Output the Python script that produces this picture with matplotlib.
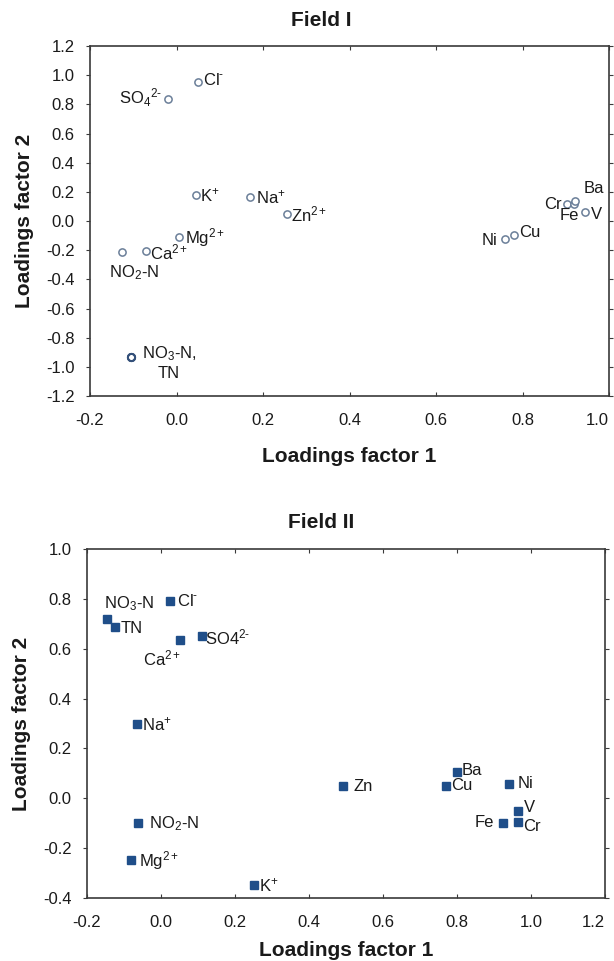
import matplotlib
matplotlib.use("Agg")
import matplotlib.pyplot as plt

plt.rcParams['font.family'] = ['Liberation Sans', 'DejaVu Sans']
plt.rcParams['mathtext.fontset'] = 'custom'
plt.rcParams['mathtext.rm'] = 'Liberation Sans'
plt.rcParams['mathtext.it'] = 'Liberation Sans'
plt.rcParams['mathtext.bf'] = 'Liberation Sans:bold'

HY = '\u2010'  # short hyphen for the charge sign

# field I loadings
f1_names = ['Cl', 'SO4', 'K', 'Na', 'Zn', 'Mg', 'Ca', 'NO2-N', 'NO3-N', 'TN',
            'Ni', 'Cu', 'Cr', 'Fe', 'Ba', 'V']
f1_x = [0.05, -0.02, 0.045, 0.17, 0.255, 0.005, -0.07, -0.125, -0.105, -0.105,
        0.76, 0.78, 0.902, 0.92, 0.922, 0.945]
f1_y = [0.955, 0.835, 0.178, 0.165, 0.045, -0.11, -0.205, -0.215, -0.93, -0.935,
        -0.12, -0.095, 0.115, 0.12, 0.14, 0.06]
f1_labels = ['Cl$^{' + HY + '}$', 'SO$_4$$^{2' + HY + '}$', r'K$^{+}$', r'Na$^{+}$',
             r'Zn$^{2+}$', r'Mg$^{2+}$', r'Ca$^{2+}$', r'NO$_2$-N',
             r'NO$_3$-N,' + '\nTN', '', 'Ni', 'Cu', 'Cr', 'Fe', 'Ba', 'V']

# field II loadings
f2_names = ['NO3-N', 'TN', 'Cl', 'Ca', 'SO4', 'Na', 'Zn', 'Ba', 'Cu', 'Ni',
            'V', 'Fe', 'Cr', 'NO2-N', 'Mg', 'K']
f2_x = [-0.145, -0.125, 0.025, 0.052, 0.11, -0.065, 0.492, 0.80, 0.77, 0.94,
        0.965, 0.925, 0.965, -0.063, -0.08, 0.252]
f2_y = [0.72, 0.688, 0.792, 0.633, 0.65, 0.297, 0.05, 0.105, 0.05, 0.058,
        -0.05, -0.098, -0.094, -0.098, -0.248, -0.348]
f2_labels = [r'NO$_3$-N', 'TN', 'Cl$^{' + HY + '}$', r'Ca$^{2+}$',
             'SO4$^{2' + HY + '}$', r'Na$^{+}$', 'Zn', 'Ba', 'Cu', 'Ni', 'V', 'Fe',
             'Cr', r'NO$_2$-N', r'Mg$^{2+}$', r'K$^{+}$']

# label offsets in pixels (dx, dy, ha, va)
f1_offsets = [(5, 2, 'left', 'center'), (-6, 2, 'right', 'center'),
              (4, 0, 'left', 'center'), (6, 0, 'left', 'center'),
              (4, 0, 'left', 'center'), (6, 0, 'left', 'center'),
              (4, -2, 'left', 'center'), (12, -11, 'center', 'top'),
              (38, -6, 'center', 'center'), (0, 0, 'left', 'center'),
              (-8, -2, 'right', 'center'), (5, 2, 'left', 'center'),
              (-5, 0, 'right', 'center'), (-5, -4, 'center', 'top'),
              (8, 5, 'left', 'bottom'), (6, -2, 'left', 'center')]
f2_offsets = [(22, 6, 'center', 'bottom'), (6, -2, 'left', 'center'),
              (7, 0, 'left', 'center'), (-18, -8, 'center', 'top'),
              (3, -1, 'left', 'center'), (5, 0, 'left', 'center'),
              (10, -1, 'left', 'center'), (5, 2, 'left', 'center'),
              (5, 0, 'left', 'center'), (9, 0, 'left', 'center'),
              (6, 3, 'left', 'center'), (-9, 0, 'right', 'center'),
              (5, -5, 'left', 'center'), (11, -1, 'left', 'center'),
              (8, 0, 'left', 'center'), (5, 0, 'left', 'center')]

f1_xticks = [-0.2, 0.0, 0.2, 0.4, 0.6, 0.8, 1.0]
f1_yticks = [-1.2, -1.0, -0.8, -0.6, -0.4, -0.2, 0.0, 0.2, 0.4, 0.6, 0.8, 1.0, 1.2]
f2_xticks = [-0.2, 0.0, 0.2, 0.4, 0.6, 0.8, 1.0, 1.2]
f2_yticks = [-0.4, -0.2, 0.0, 0.2, 0.4, 0.6, 0.8, 1.0]

spine_col = '#3a3a3a'
text_col = '#1a1a1a'


def style_axes(ax, xticks, yticks, xpad):
    ax.set_xlim(xticks[0], xticks[-1])
    ax.set_ylim(yticks[0], yticks[-1])
    ax.set_xticks(xticks)
    ax.set_yticks(yticks)
    ax.set_xticklabels([f'{v:.1f}' for v in xticks])
    ax.set_yticklabels([f'{v:.1f}' for v in yticks])
    # last x label sits inside the right edge, as in the source
    ax.get_xticklabels()[-1].set_horizontalalignment('right')
    for s in ax.spines.values():
        s.set_color(spine_col)
        s.set_linewidth(1.2)
    ax.tick_params(axis='x', direction='in', top=True, length=3, width=0.8,
                   color=spine_col, labelsize=12, labelcolor=text_col, pad=12)
    ax.tick_params(axis='y', direction='out', right=True, length=3, width=0.8,
                   color=spine_col, labelsize=12, labelcolor=text_col, pad=8)
    ax.set_xlabel('Loadings factor 1', fontsize=15, fontweight='bold',
                  color=text_col, labelpad=xpad)
    ax.set_ylabel('Loadings factor 2', fontsize=15, fontweight='bold',
                  color=text_col, labelpad=9)


def label_points(ax, xs, ys, labels, offsets):
    for x, y, lab, (dx, dy, ha, va) in zip(xs, ys, labels, offsets):
        if not lab:
            continue
        ax.annotate(lab, (x, y), xytext=(dx, dy), textcoords='offset pixels',
                    ha=ha, va=va, fontsize=12, color=text_col)


fig = plt.figure(figsize=(6.14, 9.61), dpi=100)

# field I
ax1 = fig.add_axes([0.1466, 0.5879, 0.8453, 0.3642])
ax1.plot(f1_x, f1_y, linestyle='none', marker='o', markersize=5.2,
         markerfacecolor='white', markeredgecolor='#6b7f99', markeredgewidth=1.1)
ax1.plot(f1_x[8:10], f1_y[8:10], linestyle='none', marker='o', markersize=5.2,
         markerfacecolor='none', markeredgecolor='#34507a', markeredgewidth=1.4)
style_axes(ax1, f1_xticks, f1_yticks, 14)
label_points(ax1, f1_x, f1_y, f1_labels, f1_offsets)
fig.text(321 / 614, 1 - 21 / 961, 'Field I', ha='center', va='center',
         fontsize=15, fontweight='bold', color=text_col)

# field II
ax2 = fig.add_axes([0.1417, 0.0656, 0.8436, 0.3631])
ax2.plot(f2_x, f2_y, linestyle='none', marker='s', markersize=6.2,
         color='#1f4e89', markeredgecolor='#1f4e89')
style_axes(ax2, f2_xticks, f2_yticks, 8)
label_points(ax2, f2_x, f2_y, f2_labels, f2_offsets)
fig.text(321 / 614, 1 - 523 / 961, 'Field II', ha='center', va='center',
         fontsize=15, fontweight='bold', color=text_col)

fig.savefig('out.png', dpi=100)
